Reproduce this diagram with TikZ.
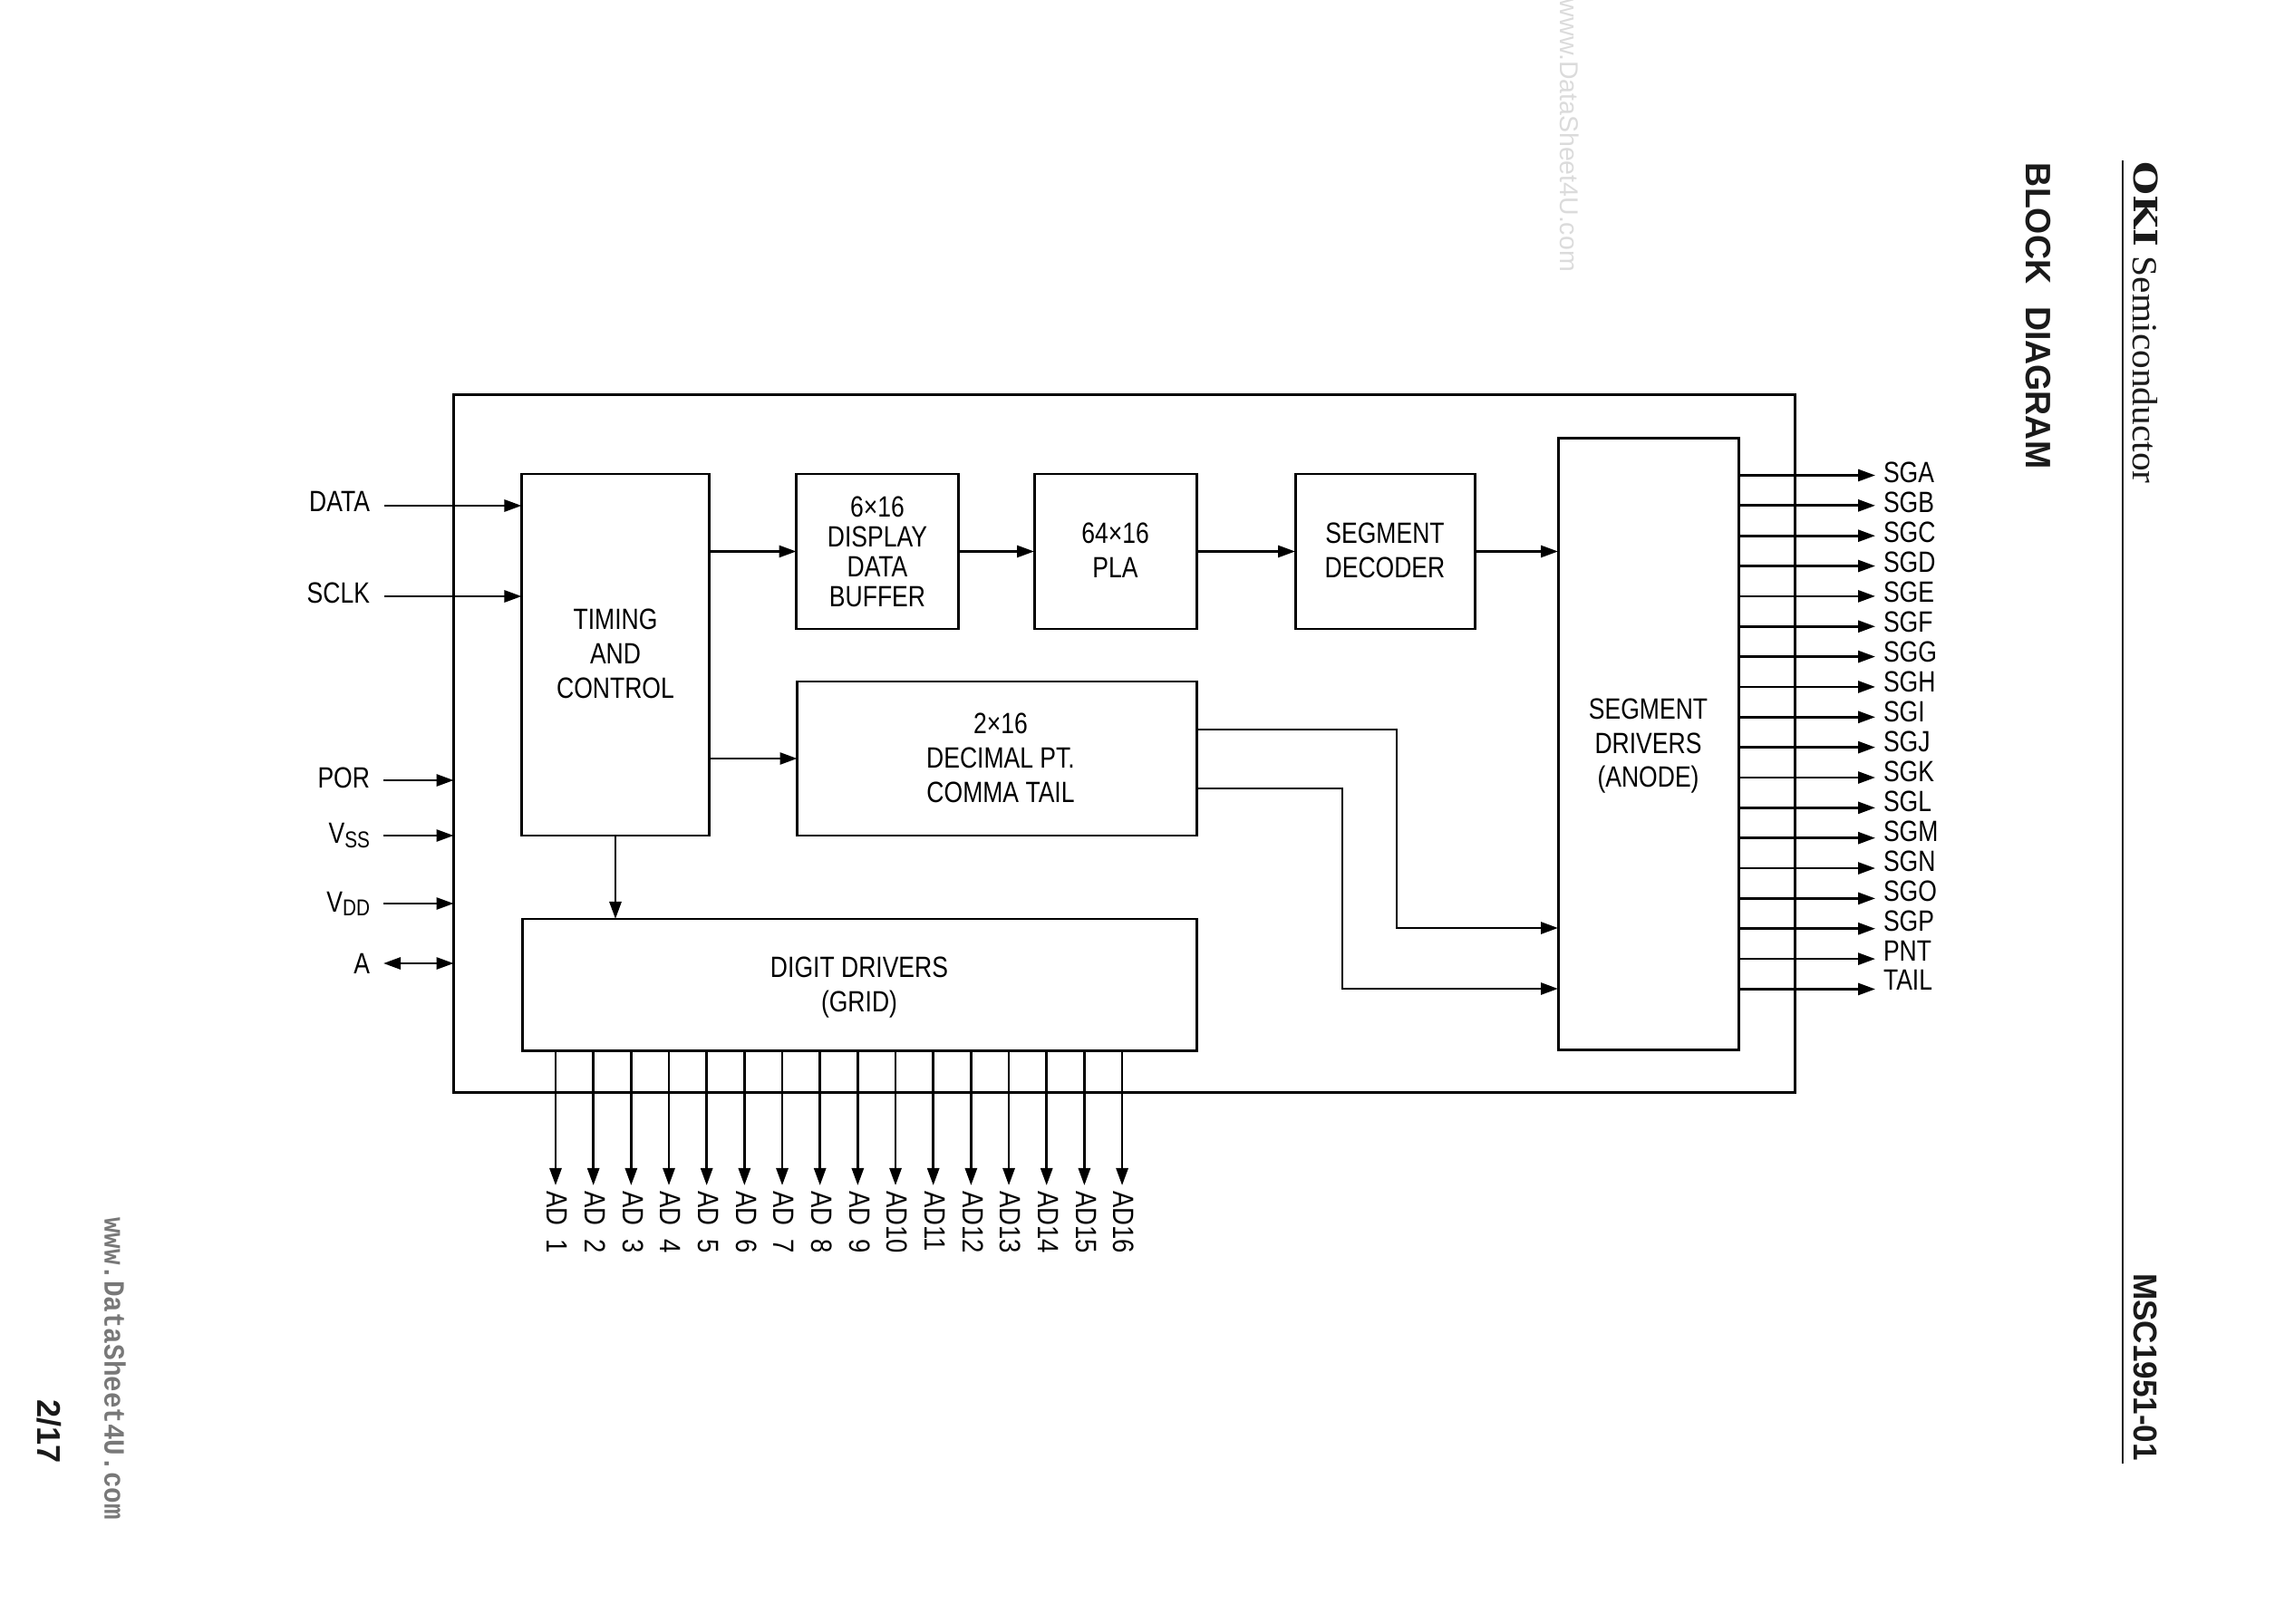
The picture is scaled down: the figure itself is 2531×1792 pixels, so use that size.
\documentclass[tikz,border=0pt]{standalone}
\usepackage{fontspec}
\usetikzlibrary{arrows.meta}
\newfontfamily\lab[FakeStretch=0.82]{Liberation Sans}
\newfontfamily\labw[FakeStretch=0.85]{Liberation Sans}
\newfontfamily\headb[FakeStretch=0.96]{Liberation Sans}
\newfontfamily\okib[FakeStretch=1.18]{DejaVu Serif}
\newfontfamily\semi[FakeStretch=1.06]{Liberation Serif}
\newfontfamily\wmono[FakeStretch=0.905]{Liberation Mono}
\newfontfamily\wsans{Liberation Sans}
\definecolor{ink}{HTML}{1A1A1A}
\newcommand{\tup}[1]{\rule[-#1]{0pt}{0pt}}
\newcommand{\tdown}[1]{\rule{0pt}{#1}}
\newcommand{\nudge}{\hspace*{0.08cm}}
\tikzset{
  x=0.01cm,y=-0.01cm,
  every node/.style={inner sep=0pt,outer sep=0pt},
  labelfont/.style={font=\lab\fontsize{9.2}{10.8}\selectfont},
  blk/.style n args={2}{draw=black,line width=0.85pt,minimum width=#1*0.01cm,minimum height=#2*0.01cm,
    align=center,labelfont},
  sig/.style={draw=black,line width=0.78pt,-{Triangle[length=0.19cm,width=0.13cm]}},
  sigboth/.style={draw=black,line width=0.78pt,{Triangle[length=0.19cm,width=0.13cm]}-{Triangle[length=0.19cm,width=0.13cm]}},
  pinlabel/.style={anchor=base east,labelfont},
  outlabel/.style={anchor=base west,labelfont},
  adlabel/.style={anchor=west,rotate=-90,font=\labw\fontsize{9.2}{10.8}\selectfont},
  pagetext/.style={rotate=-90,text=ink},
  rulel/.style={draw=ink,line width=0.77pt}
}
\begin{document}
\begin{tikzpicture}
\path[use as bounding box] (0,0) rectangle (2531,1792);
% boxes
\node[draw=black,line width=0.85pt,minimum width=14.79cm,minimum height=7.69cm] (chip) at (1240.5,820.5) {};
\node[blk={207}{399}] (timing) at (679,722.5) {TIMING\\AND\\CONTROL\tup{0.9pt}};
\node[blk={179}{171},font=\lab\fontsize{9.2}{9.4}\selectfont] (buffer) at (968,608.5) {6×16\\DISPLAY\\DATA\\BUFFER};
\node[blk={179}{171}] (pla) at (1230.5,608.5) {64×16\\PLA\tup{0.9pt}};
\node[blk={198}{171}] (decoder) at (1528,608.5) {SEGMENT\\DECODER\tup{0.9pt}};
\node[blk={441}{170}] (decimal) at (1100,837) {\nudge 2×16\\\nudge DECIMAL PT.\\\nudge COMMA TAIL\tup{0.7pt}};
\node[blk={744}{145}] (digit) at (948,1086.5) {\tdown{8.4pt}DIGIT DRIVERS\\(GRID)};
\node[blk={199}{675}] (segdrv) at (1818.5,821) {\tdown{7.6pt}SEGMENT\\DRIVERS\\(ANODE)};
% internal connectors
\draw[sig] (timing.east |- buffer.west) -- (buffer.west);
\draw[sig] (buffer.east) -- (pla.west);
\draw[sig] (pla.east) -- (decoder.west);
\draw[sig] (decoder.east) -- (segdrv.west |- decoder.east);
\draw[sig] (timing.east |- decimal.west) -- (decimal.west);
\draw[sig] (timing.south) -- (digit.north -| timing.south);
\coordinate (dpup) at (1320,805);
\coordinate (dplo) at (1320,870);
\draw[sig] (decimal.east |- dpup) -| (1541,1024) -- (segdrv.west |- 0,1024);
\draw[sig] (decimal.east |- dplo) -| (1481,1091) -- (segdrv.west |- 0,1091);
% input pins
\node[pinlabel] (ldata) at (408,565) {DATA};
\node[pinlabel] (lsclk) at (408,666) {SCLK};
\node[pinlabel] (lpor) at (408,869) {POR};
\node[pinlabel] (lvss) at (408,930.5) {V\raisebox{-1.3pt}{\fontsize{7.2}{8}\selectfont SS}};
\node[pinlabel] (lvdd) at (408,1006) {V\raisebox{-1.3pt}{\fontsize{7.2}{8}\selectfont DD}};
\node[pinlabel] (la) at (408,1074) {A};
\coordinate (sdata) at (424,558);
\coordinate (ssclk) at (424,658);
\coordinate (spor) at (423,861);
\coordinate (svss) at (423,922);
\coordinate (svdd) at (423,997);
\coordinate (sa) at (423,1063);
\draw[sig] (sdata) -- (timing.west |- sdata);
\draw[sig] (ssclk) -- (timing.west |- ssclk);
\draw[sig] (spor) -- (chip.west |- spor);
\draw[sig] (svss) -- (chip.west |- svss);
\draw[sig] (svdd) -- (chip.west |- svdd);
\draw[sigboth] (sa) -- (chip.west |- sa);
% segment outputs
\foreach \n [count=\i from 0] in {SGA,SGB,SGC,SGD,SGE,SGF,SGG,SGH,SGI,SGJ,SGK,SGL,SGM,SGN,SGO,SGP,PNT,TAIL}{
  \node[outlabel] (out\i) at (2078,533+\i*32.94) {\n};
  \coordinate (tip\i) at (2069,524.5+\i*33.35);
  \draw[sig] (segdrv.east |- tip\i) -- (tip\i);
}
% digit outputs
\foreach \n [count=\i from 0] in {AD 1,AD 2,AD 3,AD 4,AD 5,AD 6,AD 7,AD 8,AD 9,AD10,AD11,AD12,AD13,AD14,AD15,AD16}{
  \node[adlabel] (ad\i) at (615+\i*41.67,1314) {\spaceskip=.47em \n};
  \coordinate (adtip\i) at (613+\i*41.67,1308);
  \draw[sig] (digit.south -| adtip\i) -- (adtip\i);
}
% page furniture
\draw[rulel] (2342,177) -- (2342,1615);
\node[pagetext,anchor=west,font=\okib\bfseries\fontsize{10.2}{12}\selectfont] (oki) at (2368,179) {OKI};
\node[pagetext,anchor=west,font=\semi\fontsize{11.1}{12}\selectfont] (semi) at (2367,283) {Semiconductor};
\node[pagetext,anchor=west,font=\headb\bfseries\fontsize{11.1}{12}\selectfont] (title) at (2249,180) {BLOCK\hspace{0.25cm}DIAGRAM};
\node[pagetext,anchor=west,font=\headb\bfseries\fontsize{10.4}{12}\selectfont] (part) at (2367.5,1405) {MSC1951-01};
\node[pagetext,anchor=west,font=\wsans\bfseries\fontsize{10.3}{12}\selectfont] (pageno) at (54.5,1544) {2/17};
\node[rotate=-90,anchor=west,text=black!53,font=\wmono\bfseries\fontsize{9.2}{10}\selectfont] (wm1) at (127,1343) {www.DataSheet4U.com};
\node[rotate=-90,anchor=west,text=black!14,font=\wsans\fontsize{8.1}{10}\selectfont] (wm2) at (1732,-1) {www.DataSheet4U.com};
\end{tikzpicture}
\end{document}
